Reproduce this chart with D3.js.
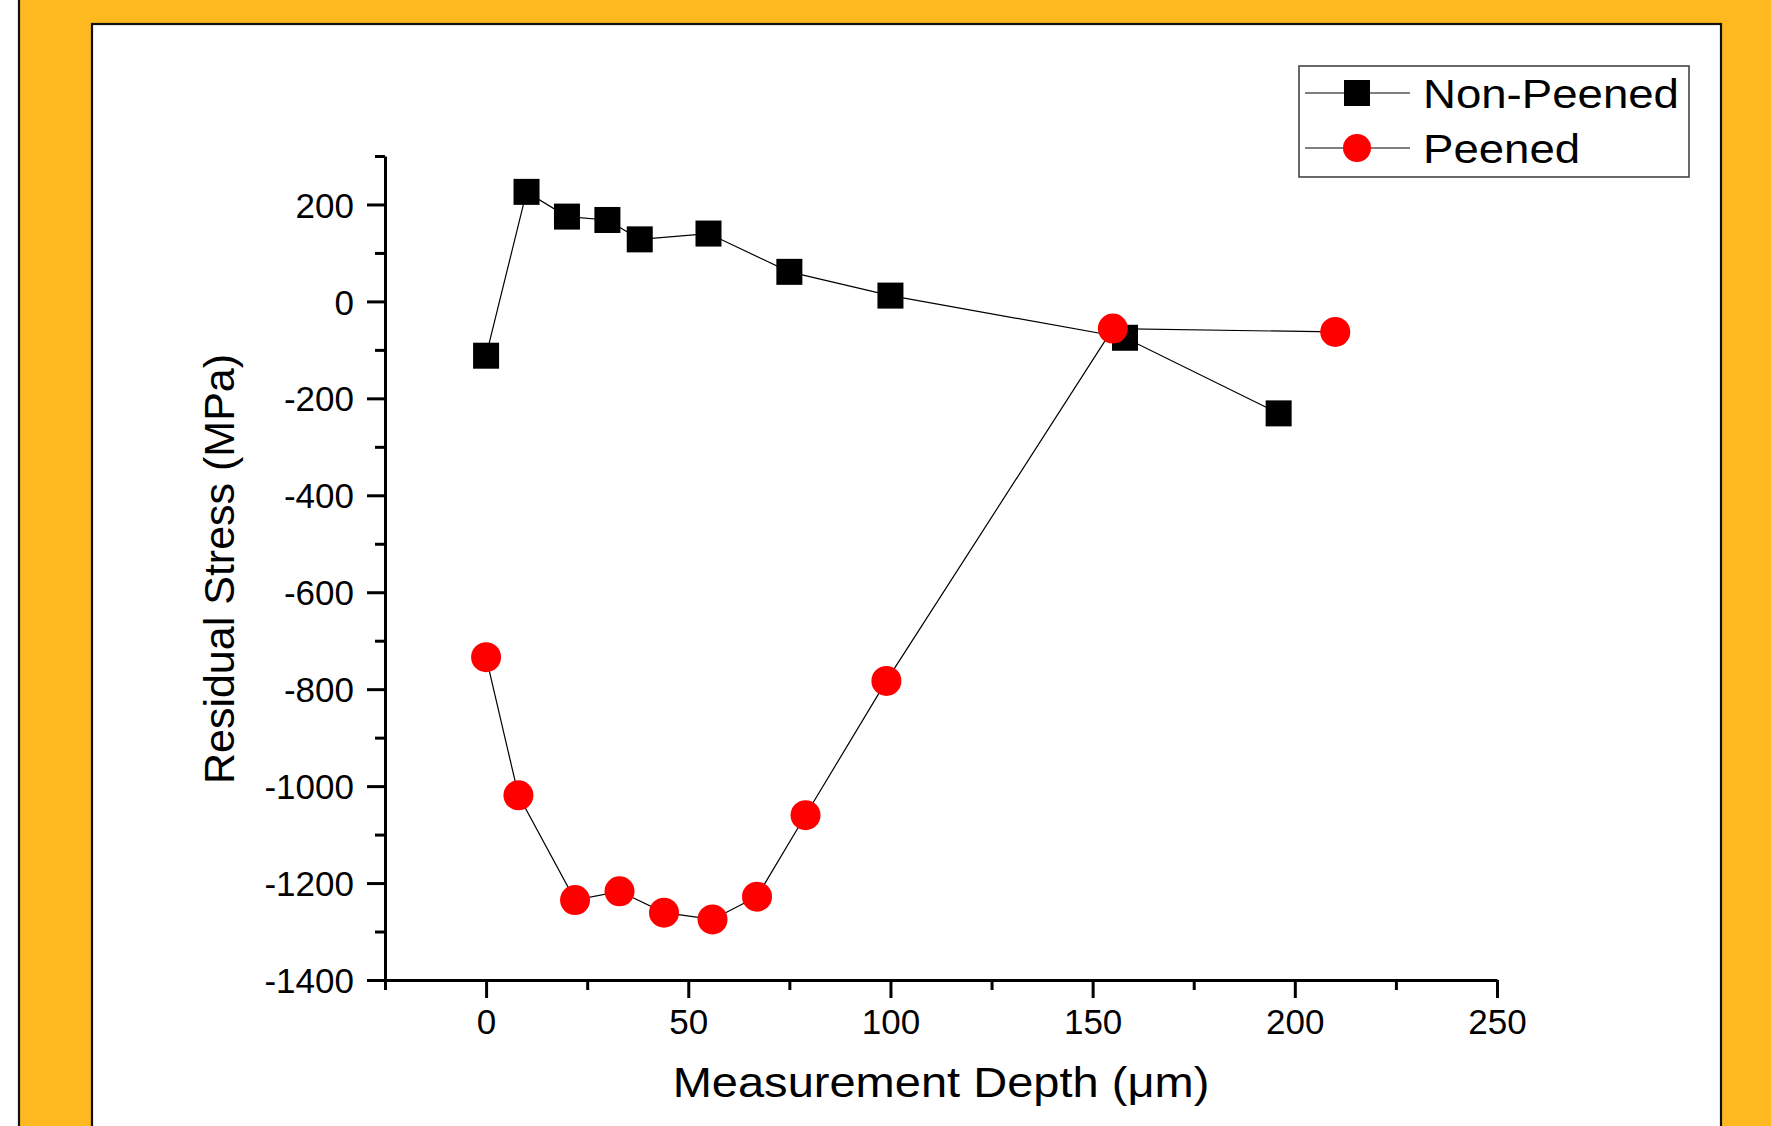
<!DOCTYPE html>
<html>
<head>
<meta charset="utf-8">
<script src="https://cdn.jsdelivr.net/npm/d3@7"></script>
<style>
  html, body { margin: 0; padding: 0; background: #ffffff; }
  svg { display: block; }
  text { font-family: "Liberation Sans", Arial, sans-serif; fill: #000; }
</style>
</head>
<body>
<svg id="chart" width="1771" height="1126"></svg>
<script>
// Residual stress profiles vs. measurement depth
const nonPeenedDepth  = [0, 10, 20, 30, 38, 55, 75, 100, 158, 196];
const nonPeenedStress = [-112, 226, 175, 168, 128, 140, 61, 12, -75, -231];

const peenedDepth  = [0, 8, 22, 33, 44, 56, 67, 79, 99, 155, 210];
const peenedStress = [-734, -1019, -1235, -1217, -1261, -1275, -1228, -1060, -783, -56, -63];

const xMajorTicks = [0, 50, 100, 150, 200, 250];
const xMinorTicks = [-25, 25, 75, 125, 175, 225];
const yMajorTicks = [-1400, -1200, -1000, -800, -600, -400, -200, 0, 200];
const yMinorTicks = [-1300, -1100, -900, -700, -500, -300, -100, 100, 300];

const seriesNames = ["Non-Peened", "Peened"];
const xTitle = "Measurement Depth (\u03BCm)";
const yTitle = "Residual Stress (MPa)";

const svg = d3.select("#chart");
const W = 1771, H = 1126;
const stretch = 1.14;   // legend glyphs are drawn slightly wide
const titleStretch = 1.12;

// Frame: orange band with an inset white panel
svg.append("rect").attr("x", 0).attr("y", 0).attr("width", W).attr("height", H).attr("fill", "#ffffff");
svg.append("rect").attr("x", 19).attr("y", -5).attr("width", W + 10).attr("height", H + 10)
  .attr("fill", "#FDB91F").attr("stroke", "#111").attr("stroke-width", 2.2);
svg.append("rect").attr("x", 92).attr("y", 24).attr("width", 1721 - 92).attr("height", H + 10)
  .attr("fill", "#ffffff").attr("stroke", "#111").attr("stroke-width", 2.2);

const x = d3.scaleLinear().domain([-25, 250]).range([385, 1497]);
const y = d3.scaleLinear().domain([-1400, 300]).range([980, 156]);

// Plain integer labels with an ASCII hyphen for negatives
const fmt = d => String(d);

// Axes
const gx = svg.append("g").attr("transform", `translate(0,${y(-1400)})`);
gx.call(d3.axisBottom(x).tickValues(xMinorTicks).tickSize(10).tickSizeOuter(0).tickFormat(""));
gx.call(g => g.selectAll(".domain").remove());
const gxMaj = svg.append("g").attr("transform", `translate(0,${y(-1400)})`);
gxMaj.call(d3.axisBottom(x).tickValues(xMajorTicks).tickFormat(fmt).tickSize(18).tickSizeOuter(0).tickPadding(11));

const gy = svg.append("g").attr("transform", `translate(${x(-25)},0)`);
gy.call(d3.axisLeft(y).tickValues(yMinorTicks).tickSize(10).tickSizeOuter(0).tickFormat(""));
gy.call(g => g.selectAll(".domain").remove());
const gyMaj = svg.append("g").attr("transform", `translate(${x(-25)},0)`);
gyMaj.call(d3.axisLeft(y).tickValues(yMajorTicks).tickFormat(fmt).tickSize(18).tickSizeOuter(0).tickPadding(13));

svg.selectAll(".tick line").attr("stroke", "#000").attr("stroke-width", 3);
svg.selectAll(".domain").attr("stroke", "#000").attr("stroke-width", 3);
svg.selectAll(".tick text")
  .style("font-family", '"Liberation Sans", Arial, sans-serif')
  .style("font-size", "35px").attr("fill", "#000");
gyMaj.selectAll(".tick text").attr("dy", "0.36em");

// Axis titles
svg.append("text")
  .attr("transform", `translate(${x(112.5)},1097) scale(${titleStretch},1)`)
  .attr("text-anchor", "middle").style("font-size", "42px").text(xTitle);
svg.append("text")
  .attr("transform", `translate(234,569) rotate(-90)`)
  .attr("text-anchor", "middle").style("font-size", "43px").text(yTitle);

// Series
const nonPeened = nonPeenedDepth.map((d, i) => ({ x: d, y: nonPeenedStress[i] }));
const peened = peenedDepth.map((d, i) => ({ x: d, y: peenedStress[i] }));
const line = d3.line().x(d => x(d.x)).y(d => y(d.y));

svg.append("path").datum(nonPeened).attr("d", line)
  .attr("fill", "none").attr("stroke", "#000").attr("stroke-width", 1.2);
svg.append("path").datum(peened).attr("d", line)
  .attr("fill", "none").attr("stroke", "#000").attr("stroke-width", 1.2);

const sq = 26;
svg.append("g").selectAll("rect").data(nonPeened).join("rect")
  .attr("x", d => x(d.x) - sq / 2).attr("y", d => y(d.y) - sq / 2)
  .attr("width", sq).attr("height", sq).attr("fill", "#000");
svg.append("g").selectAll("circle").data(peened).join("circle")
  .attr("cx", d => x(d.x)).attr("cy", d => y(d.y)).attr("r", 15).attr("fill", "#FF0000");

// Legend
const lg = svg.append("g");
lg.append("rect").attr("x", 1299).attr("y", 66).attr("width", 390).attr("height", 111)
  .attr("fill", "#fff").attr("stroke", "#444").attr("stroke-width", 1.6);
const rows = [93, 148];
seriesNames.forEach((name, i) => {
  const cy = rows[i];
  lg.append("line").attr("x1", 1305).attr("x2", 1410).attr("y1", cy).attr("y2", cy)
    .attr("stroke", "#000").attr("stroke-width", 1.2);
  if (i === 0) {
    lg.append("rect").attr("x", 1357 - 13).attr("y", cy - 13).attr("width", 26).attr("height", 26).attr("fill", "#000");
  } else {
    lg.append("circle").attr("cx", 1357).attr("cy", cy).attr("r", 14).attr("fill", "#FF0000");
  }
  lg.append("text").attr("transform", `translate(1423,${cy + 15}) scale(${stretch},1)`)
    .style("font-size", "40px").text(name);
});
</script>
</body>
</html>
